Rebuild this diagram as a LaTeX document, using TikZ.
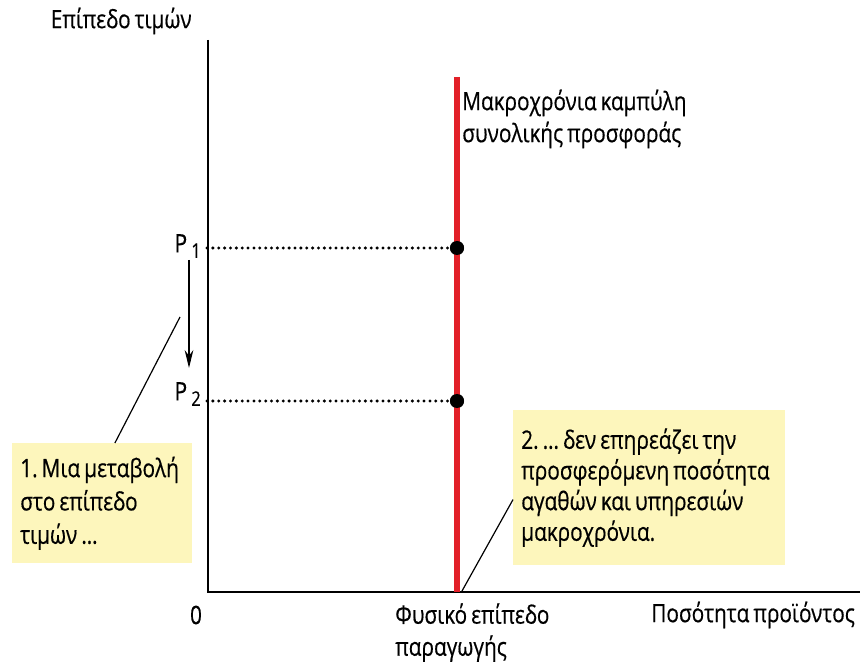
\documentclass[tikz,border=0pt]{standalone}
\usepackage{fontspec}
\setmainfont[FakeStretch=0.82, WordSpace=0.75, FakeBold=0.5]{Open Sans}
\usepackage{tikz}
\usetikzlibrary{arrows.meta,calc,positioning}
\definecolor{lrasred}{RGB}{226,32,40}
\definecolor{notefill}{RGB}{253,246,188}
\tikzstyle{axis} = [draw, line width=1.2pt]
\tikzstyle{lras} = [draw=lrasred, line width=4.5pt]
\tikzstyle{guide} = [draw, line width=2.5pt, line cap=round,
    dash pattern=on 0pt off 4.4pt]
\tikzstyle{eqpoint} = [circle, fill=black, inner sep=0pt, minimum size=10.5pt]
\tikzstyle{axlabel} = [inner sep=0pt, align=left,
    font=\fontsize{19}{24}\selectfont]
\tikzstyle{notebox} = [fill=notefill, rectangle, anchor=north west,
    align=flush left, inner xsep=6pt, font=\fontsize{19}{24}\selectfont]
\newcommand{\pricelab}[1]{P\raisebox{-0.4ex}{\,\fontsize{15}{15}\selectfont #1}}
\frenchspacing

\begin{document}
\begin{tikzpicture}[x=0.75pt, y=-0.75pt, >={Stealth[length=13.5pt,width=6.5pt]}]
    \useasboundingbox (0,0) rectangle (868,670);
    % We start by placing the axes and the long-run supply curve
    \coordinate (origin) at (208,592);
    \coordinate (ytop) at (208,40);
    \coordinate (xend) at (860,592);
    \coordinate (lrastop) at (457,77);
    \coordinate (lrasbot) at (457,592);
    \coordinate (lrasfoot) at (462,591);
    \node [eqpoint] (e1) at (457,248) {};
    \node [eqpoint] (e2) at (457,401) {};
    \node [axlabel, anchor=east] (p1) at (201,246) {\pricelab{1}};
    \node [axlabel, anchor=east] (p2) at (201,394) {\pricelab{2}};
    \coordinate (shtop) at (189,260);
    \coordinate (shbot) at (189,368);
    \coordinate (ltip) at (180,317);
    % axis texts
    \node [axlabel, anchor=east] (ylab) at (192,21) {Επίπεδο τιμών};
    \node [axlabel] (zero) at (196,615) {0};
    \node [axlabel, anchor=west] (xlab) at (651,615) {Ποσότητα προϊόντος};
    \node [axlabel, anchor=north west] (natlab) at (395,603) {Φυσικό επίπεδο\\παραγωγής};
    \node [axlabel, anchor=west] (lraslab) at (462,119) {Μακροχρόνια καμπύλη\\συνολικής προσφοράς};
    % the two notes
    \node [notebox, text width=123pt, minimum height=90pt,
        font=\fontsize{19}{25}\selectfont] (lbox) at (12,443)
        {1. Μια μεταβολή\\στο επίπεδο\\τιμών …};
    \node [notebox, text width=192pt, minimum height=116pt,
        font=\fontsize{19}{23}\selectfont] (rbox) at (513,410)
        {2. … δεν επηρεάζει την\\προσφερόμενη ποσότητα\\αγαθών και υπηρεσιών\\μακροχρόνια.};
    % Once the nodes are placed, connecting them is easy.
    \draw [axis] (ytop) -- (origin) -- (xend);
    \draw [guide] (p1.east) ++(6,2) -- (e1);
    \draw [guide] (p2.east) ++(6,7) -- (e2);
    \draw [lras] (lrastop) -- (lrasbot);
    \node [eqpoint] at (e1) {};
    \node [eqpoint] at (e2) {};
    \draw [->, line width=0.9pt] (shtop) -- (shbot);
    \draw [line width=0.9pt] ($(lbox.north west)!0.57!(lbox.north east)$) -- (ltip);
    \draw [line width=0.9pt] (lrasfoot) -- ($(rbox.west)+(0,12)$);
\end{tikzpicture}
\end{document}
